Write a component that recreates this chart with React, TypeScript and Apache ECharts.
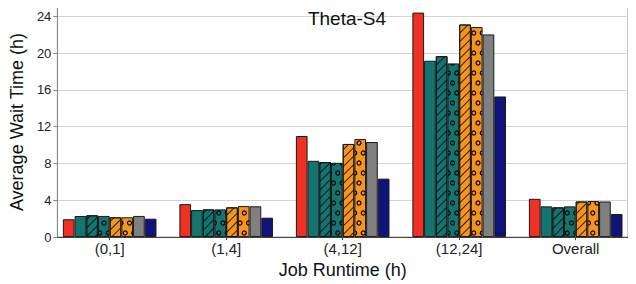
import React, { useEffect, useRef } from "react";
import * as echarts from "echarts";

const categories = ["(0,1]", "(1,4]", "(4,12]", "(12,24]", "Overall"];
const catIndex = [0, 1, 2, 3, 4];
const yTicks = [0, 4, 8, 12, 16, 20, 24];

const s1 = [1.94, 3.58, 10.98, 24.39, 4.16];
const s2 = [2.29, 2.94, 8.29, 19.16, 3.34];
const s3 = [2.37, 3.01, 8.14, 19.66, 3.23];
const s4 = [2.3, 3.01, 8.07, 18.87, 3.34];
const s5 = [2.15, 3.23, 10.12, 23.1, 3.87];
const s6 = [2.15, 3.37, 10.66, 22.82, 3.91];
const s7 = [2.3, 3.35, 10.33, 22.02, 3.87];
const s8 = [2.0, 2.11, 6.35, 15.28, 2.51];

const seriesNames = ["Series 1", "Series 2", "Series 3", "Series 4", "Series 5", "Series 6", "Series 7", "Series 8"];
const seriesData = [s1, s2, s3, s4, s5, s6, s7, s8];
const seriesColors = ["#EE3124", "#137470", "#137470", "#137470", "#F7941E", "#F7941E", "#808080", "#10147A"];
const seriesPatterns = ["none", "none", "hatch", "dots", "hatch", "dots", "none", "none"];

const FONT = "Liberation Sans, Arial, sans-serif";
const BAR_W = 11.7;
const X_PAD = 0.449;

function decalFor(p: string): any {
  if (p === "hatch") {
    return {
      symbol: "rect",
      symbolSize: 1,
      dashArrayX: [1, 0],
      dashArrayY: [1, 4.2],
      rotation: -Math.PI / 4,
      color: "rgba(0,0,0,0.8)",
    };
  }
  return undefined;
}

function dotOverlay(si: number): any {
  return {
    type: "custom",
    name: seriesNames[si] + " pattern",
    data: seriesData[si].map((v, ci) => [catIndex[ci], v]),
    encode: { x: 0, y: 1 },
    silent: true,
    clip: false,
    z: 3,
    renderItem: (params: any, api: any) => {
      const ci = api.value(0);
      const v = api.value(1);
      const base = api.coord([ci, 0]);
      const top = api.coord([ci, v]);
      const n = seriesData.length;
      const groupW = BAR_W * n;
      const x = base[0] - groupW / 2 + si * BAR_W;
      const y = top[1];
      const h = base[1] - top[1];
      const children: any[] = [];
      const rowStep = 10;
      const colStep = 8.5;
      const k0 = Math.floor((y - 4) / rowStep);
      const k1 = Math.ceil((base[1] + 4) / rowStep);
      for (let k = k0; k <= k1; k++) {
        const cy = k * rowStep + 3;
        const off = (((k % 2) + 2) % 2) * (colStep / 2);
        const j0 = Math.floor((x - 4 - off) / colStep);
        const j1 = Math.ceil((x + BAR_W + 4 - off) / colStep);
        for (let j = j0; j <= j1; j++) {
          const cx = j * colStep + off + 2;
          children.push({
            type: "circle",
            shape: { cx, cy, r: 2 },
            style: { fill: "none", stroke: "#000", lineWidth: 1.2 },
          });
        }
      }
      return {
        type: "group",
        children,
        clipPath: { type: "rect", shape: { x: x + 0.5, y: y + 0.5, width: BAR_W - 1, height: Math.max(0, h - 1) } },
      };
    },
  };
}

export default function App() {
  const ref = useRef<HTMLDivElement>(null);
  useEffect(() => {
    if (!ref.current) return;
    const chart = echarts.init(ref.current, null, { renderer: "svg" });
    const barSeries = seriesData.map((d, i) => ({
      name: seriesNames[i],
      type: "bar",
      data: d.map((v, ci) => [catIndex[ci], v]),
      barGap: "0%",
      barWidth: BAR_W,
      itemStyle: {
        color: seriesColors[i],
        borderColor: "#1a1a1a",
        borderWidth: 1,
        decal: decalFor(seriesPatterns[i]),
      },
    }));
    const overlays = seriesPatterns
      .map((p, i) => (p === "dots" ? dotOverlay(i) : null))
      .filter((s) => s !== null);
    chart.setOption({
      animation: false,
      backgroundColor: "#fff",
      title: {
        text: "Theta-S4",
        left: 342,
        textAlign: "center",
        top: 4,
        textStyle: { fontFamily: FONT, fontSize: 19, fontWeight: "normal", color: "#111" },
      },
      grid: {
        left: 57,
        right: 8,
        top: 7,
        bottom: 45,
        show: true,
        borderColor: "#999",
        borderWidth: 1,
        containLabel: false,
      },
      xAxis: {
        type: "value",
        min: -X_PAD,
        max: catIndex.length - 1 + X_PAD,
        name: "Job Runtime (h)",
        nameLocation: "middle",
        nameGap: 23,
        nameTextStyle: { fontFamily: FONT, fontSize: 18, color: "#111" },
        axisLine: { show: true, onZero: false, lineStyle: { color: "#444", width: 1 } },
        axisTick: { show: true, length: 3, customValues: catIndex, lineStyle: { color: "#444" } },
        axisLabel: {
          fontFamily: FONT,
          fontSize: 15,
          color: "#222",
          margin: 4,
          customValues: catIndex,
          formatter: (v: number) => categories[Math.round(v)] ?? "",
        },
        splitLine: { show: false },
      },
      yAxis: {
        type: "value",
        min: 0,
        max: 25,
        interval: 4,
        name: "Average Wait Time (h)",
        nameLocation: "middle",
        nameGap: 30,
        nameTextStyle: { fontFamily: FONT, fontSize: 18, color: "#111" },
        axisLine: { show: true, onZero: false, lineStyle: { color: "#888", width: 1 } },
        axisTick: { show: true, length: 4, lineStyle: { color: "#888" } },
        axisLabel: {
          fontFamily: FONT,
          fontSize: 13,
          color: "#222",
          margin: 6,
          showMaxLabel: false,
          formatter: (v: number) => (yTicks.indexOf(v) >= 0 ? String(v) : ""),
        },
        splitLine: { show: true, lineStyle: { color: "#d4d4d4", width: 1 } },
      },
      series: [...barSeries, ...overlays],
    });
    return () => chart.dispose();
  }, []);
  return <div ref={ref} style={{ width: 636, height: 284, marginLeft: -8, marginTop: -8 }} />;
}
